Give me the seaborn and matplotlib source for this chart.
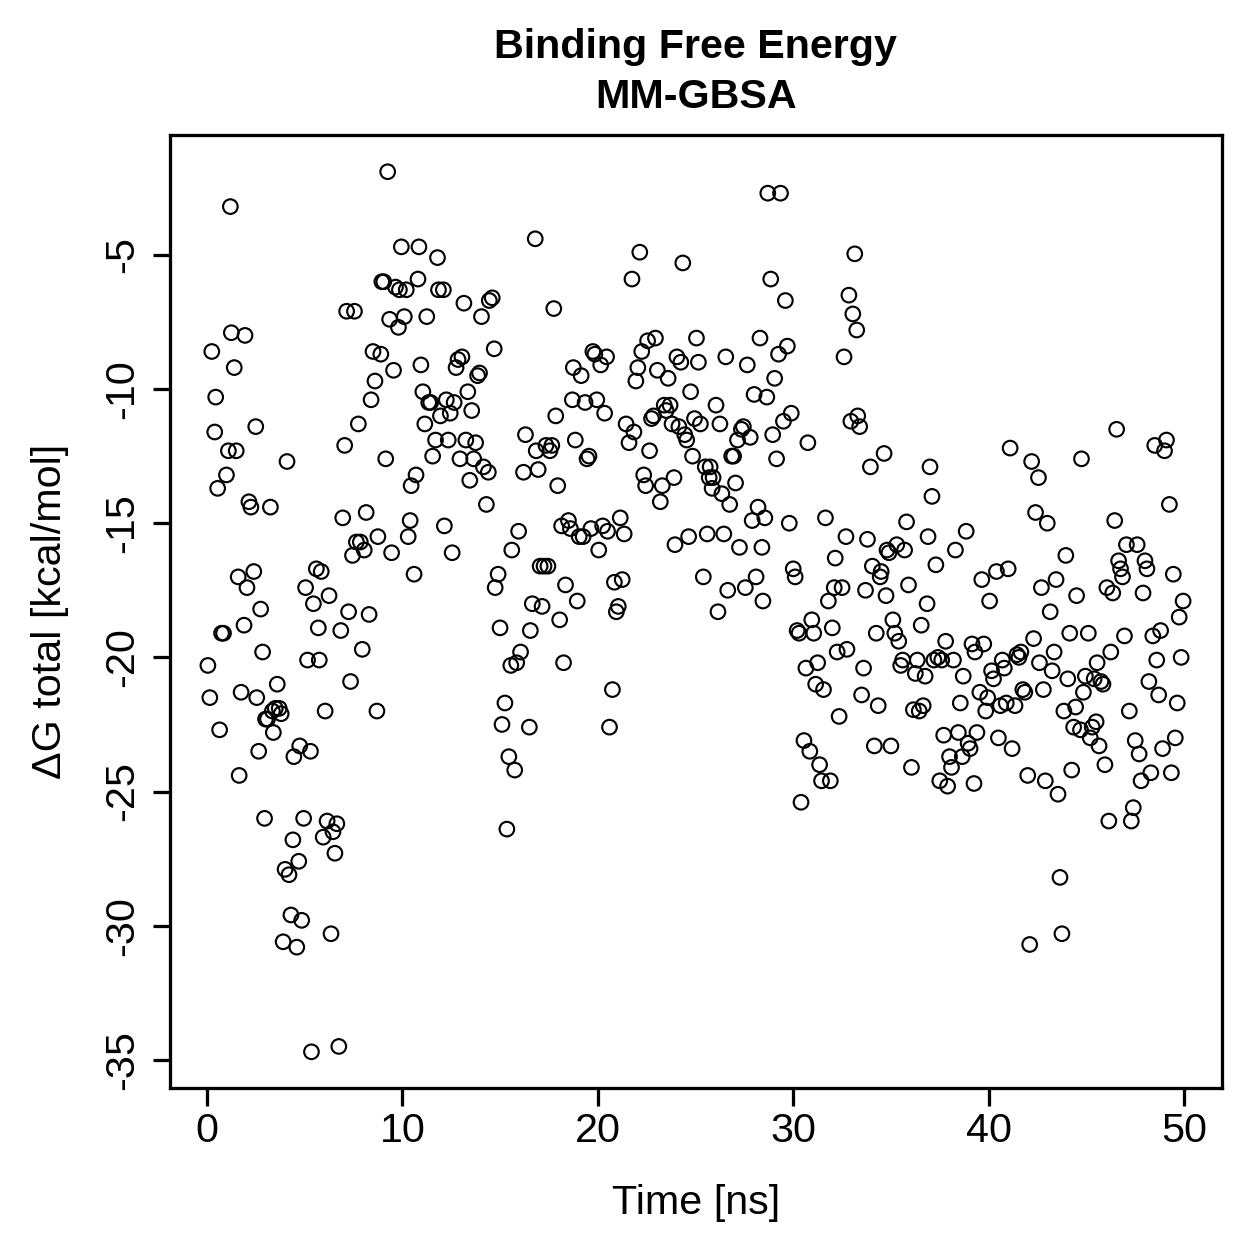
import numpy as np
import pandas as pd
import matplotlib
matplotlib.use("Agg")
import matplotlib.pyplot as plt
import seaborn as sns

# time [ns] and total binding free energy [kcal/mol]
time_ns = [
    0.05, 0.15, 0.25, 0.4, 0.45, 0.55, 0.65, 0.75, 0.85, 1.0, 1.1, 1.2, 1.25, 1.4, 1.5, 1.6, 1.65, 1.75, 1.9, 1.95,
    2.05, 2.15, 2.25, 2.4, 2.5, 2.55, 2.65, 2.75, 2.85, 2.95, 3.0, 3.1, 3.25, 3.35, 3.4, 3.5, 3.6, 3.7, 3.8, 3.9,
    4.0, 4.1, 4.2, 4.3, 4.4, 4.45, 4.6, 4.7, 4.75, 4.85, 4.95, 5.05, 5.15, 5.3, 5.35, 5.45, 5.6, 5.7, 5.75, 5.85,
    5.95, 6.05, 6.15, 6.25, 6.35, 6.45, 6.55, 6.65, 6.75, 6.85, 6.95, 7.05, 7.15, 7.25, 7.35, 7.45, 7.55, 7.65, 7.75, 7.85,
    7.95, 8.05, 8.15, 8.3, 8.4, 8.5, 8.6, 8.7, 8.75, 8.9, 8.95, 9.05, 9.15, 9.25, 9.35, 9.45, 9.55, 9.65, 9.8, 9.85,
    9.95, 10.1, 10.2, 10.3, 10.4, 10.45, 10.6, 10.7, 10.8, 10.85, 10.95, 11.05, 11.15, 11.25, 11.35, 11.45, 11.55, 11.7, 11.8, 11.85,
    11.95, 12.1, 12.15, 12.25, 12.35, 12.45, 12.55, 12.65, 12.75, 12.85, 12.95, 13.05, 13.15, 13.25, 13.35, 13.45, 13.55, 13.65, 13.75, 13.85,
    13.95, 14.05, 14.15, 14.3, 14.4, 14.45, 14.6, 14.7, 14.75, 14.9, 15.0, 15.1, 15.25, 15.35, 15.45, 15.55, 15.6, 15.75, 15.85, 15.95,
    16.05, 16.2, 16.3, 16.5, 16.55, 16.65, 16.8, 16.85, 16.95, 17.05, 17.15, 17.25, 17.35, 17.45, 17.55, 17.65, 17.75, 17.85, 17.95, 18.05,
    18.15, 18.25, 18.35, 18.5, 18.6, 18.7, 18.75, 18.85, 18.95, 19.05, 19.15, 19.25, 19.35, 19.45, 19.55, 19.65, 19.75, 19.85, 19.95, 20.05,
    20.15, 20.25, 20.35, 20.45, 20.5, 20.6, 20.75, 20.85, 20.95, 21.05, 21.15, 21.25, 21.35, 21.45, 21.6, 21.75, 21.85, 21.95, 22.05, 22.15,
    22.25, 22.35, 22.45, 22.55, 22.65, 22.75, 22.85, 22.95, 23.05, 23.2, 23.3, 23.4, 23.5, 23.6, 23.7, 23.8, 23.9, 23.95, 24.05, 24.15,
    24.25, 24.35, 24.45, 24.55, 24.65, 24.75, 24.85, 24.95, 25.05, 25.15, 25.25, 25.4, 25.5, 25.6, 25.7, 25.75, 25.85, 25.9, 26.05, 26.15,
    26.25, 26.35, 26.45, 26.55, 26.65, 26.75, 26.85, 26.95, 27.05, 27.15, 27.25, 27.35, 27.45, 27.55, 27.65, 27.8, 27.9, 28.0, 28.1, 28.2,
    28.3, 28.4, 28.45, 28.55, 28.65, 28.7, 28.85, 28.95, 29.05, 29.15, 29.25, 29.35, 29.5, 29.6, 29.7, 29.8, 29.9, 30.0, 30.1, 30.2,
    30.3, 30.4, 30.55, 30.65, 30.75, 30.85, 30.95, 31.05, 31.15, 31.25, 31.35, 31.45, 31.55, 31.65, 31.8, 31.9, 32.0, 32.1, 32.15, 32.25,
    32.35, 32.5, 32.6, 32.7, 32.75, 32.85, 32.95, 33.05, 33.15, 33.25, 33.3, 33.4, 33.5, 33.6, 33.7, 33.8, 33.95, 34.05, 34.15, 34.25,
    34.35, 34.45, 34.5, 34.65, 34.75, 34.8, 34.9, 35.0, 35.1, 35.2, 35.3, 35.4, 35.5, 35.6, 35.7, 35.8, 35.9, 36.05, 36.15, 36.25,
    36.35, 36.45, 36.55, 36.65, 36.75, 36.85, 36.9, 37.0, 37.1, 37.2, 37.3, 37.4, 37.5, 37.6, 37.7, 37.8, 37.9, 38.0, 38.1, 38.2,
    38.3, 38.45, 38.55, 38.65, 38.7, 38.85, 38.95, 39.05, 39.15, 39.25, 39.3, 39.4, 39.55, 39.65, 39.75, 39.85, 39.95, 40.05, 40.15, 40.25,
    40.4, 40.5, 40.6, 40.7, 40.8, 40.9, 41.0, 41.1, 41.2, 41.35, 41.45, 41.55, 41.65, 41.75, 41.85, 42.0, 42.1, 42.2, 42.3, 42.4,
    42.55, 42.6, 42.7, 42.8, 42.9, 43.0, 43.15, 43.25, 43.35, 43.45, 43.55, 43.65, 43.75, 43.85, 43.95, 44.05, 44.15, 44.25, 44.35, 44.45,
    44.5, 44.7, 44.75, 44.85, 44.95, 45.1, 45.2, 45.3, 45.4, 45.5, 45.55, 45.65, 45.75, 45.85, 45.95, 46.05, 46.15, 46.25, 46.35, 46.45,
    46.55, 46.65, 46.75, 46.85, 46.95, 47.05, 47.2, 47.3, 47.4, 47.5, 47.6, 47.7, 47.8, 47.9, 48.0, 48.1, 48.2, 48.3, 48.4, 48.5,
    48.6, 48.7, 48.8, 48.9, 49.0, 49.1, 49.25, 49.35, 49.45, 49.55, 49.65, 49.75, 49.85, 49.95,
]

dg_total = [
    -20.3, -21.5, -8.6, -11.6, -10.3, -13.7, -22.7, -19.1, -19.1, -13.2, -12.3, -3.2, -7.9, -9.2, -12.3, -17.0, -24.4, -21.3, -18.8, -8.0,
    -17.4, -14.2, -14.4, -16.8, -11.4, -21.5, -23.5, -18.2, -19.8, -26.0, -22.3, -22.3, -14.4, -22.0, -22.8, -21.9, -21.0, -21.9, -22.1, -30.6,
    -27.9, -12.7, -28.1, -29.6, -26.8, -23.7, -30.8, -27.6, -23.3, -29.8, -26.0, -17.4, -20.1, -23.5, -34.7, -18.0, -16.7, -18.9, -20.1, -16.8,
    -26.7, -22.0, -26.1, -17.7, -30.3, -26.5, -27.3, -26.2, -34.5, -19.0, -14.8, -12.1, -7.1, -18.3, -20.9, -16.2, -7.1, -15.7, -11.3, -15.7,
    -19.7, -16.0, -14.6, -18.4, -10.4, -8.6, -9.7, -22.0, -15.5, -8.7, -6.0, -6.0, -12.6, -1.9, -7.4, -16.1, -9.3, -6.2, -7.7, -6.3,
    -4.7, -7.3, -6.3, -15.5, -14.9, -13.6, -16.9, -13.2, -5.9, -4.7, -9.1, -10.1, -11.3, -7.3, -10.5, -10.5, -12.5, -11.9, -5.1, -6.3,
    -11.0, -6.3, -15.1, -10.4, -11.9, -10.9, -16.1, -10.5, -9.2, -8.9, -12.6, -8.8, -6.8, -11.9, -10.1, -13.4, -10.8, -12.6, -12.0, -9.5,
    -9.4, -7.3, -12.9, -14.3, -13.1, -6.7, -6.6, -8.5, -17.4, -16.9, -18.9, -22.5, -21.7, -26.4, -23.7, -20.3, -16.0, -24.2, -20.2, -15.3,
    -19.8, -13.1, -11.7, -22.6, -19.0, -18.0, -4.4, -12.3, -13.0, -16.6, -18.1, -16.6, -12.1, -16.6, -12.3, -12.1, -7.0, -11.0, -13.6, -18.6,
    -15.1, -20.2, -17.3, -14.9, -15.2, -10.4, -9.2, -11.9, -17.9, -15.5, -9.5, -15.5, -10.5, -12.6, -12.5, -15.2, -8.6, -8.7, -10.4, -16.0,
    -9.1, -15.1, -10.9, -8.8, -15.3, -22.6, -21.2, -17.2, -18.3, -18.1, -14.8, -17.1, -15.4, -11.3, -12.0, -5.9, -11.6, -9.7, -9.2, -4.9,
    -8.6, -13.2, -13.6, -8.2, -12.3, -11.1, -11.0, -8.1, -9.3, -14.2, -13.6, -10.6, -10.8, -9.6, -10.6, -11.3, -13.3, -15.8, -8.8, -11.4,
    -9.0, -5.3, -11.7, -11.9, -15.5, -10.1, -12.5, -11.1, -8.1, -9.0, -11.3, -17.0, -12.9, -15.4, -13.3, -12.9, -13.7, -13.3, -10.6, -18.3,
    -11.3, -13.9, -15.4, -8.8, -17.5, -14.3, -12.5, -12.5, -13.5, -11.9, -15.9, -11.5, -11.4, -17.4, -9.1, -11.8, -14.9, -10.2, -17.0, -14.4,
    -8.1, -15.9, -17.9, -14.8, -10.3, -2.7, -5.9, -11.7, -9.6, -12.6, -8.7, -2.7, -11.2, -6.7, -8.4, -15.0, -10.9, -16.7, -17.0, -19.0,
    -19.1, -25.4, -23.1, -20.4, -12.0, -23.5, -18.6, -19.1, -21.0, -20.2, -24.0, -24.6, -21.2, -14.8, -17.9, -24.6, -18.9, -17.4, -16.3, -19.8,
    -22.2, -17.4, -8.8, -15.5, -19.7, -6.5, -11.2, -7.2, -4.96, -7.8, -11.0, -11.4, -21.4, -20.4, -17.5, -15.6, -12.9, -16.6, -23.3, -19.1,
    -21.8, -17.0, -16.8, -12.4, -17.7, -16.0, -16.1, -23.3, -18.6, -19.1, -15.8, -19.4, -20.3, -20.1, -16.0, -14.95, -17.3, -24.1, -21.95, -20.6,
    -20.1, -22.0, -18.8, -21.8, -20.7, -18.0, -15.5, -12.9, -14.0, -20.1, -16.55, -20.0, -24.6, -20.1, -22.9, -19.4, -24.8, -23.7, -24.1, -20.1,
    -16.0, -22.8, -21.7, -23.7, -20.7, -15.3, -23.2, -23.4, -19.5, -24.7, -19.8, -22.8, -21.3, -17.1, -19.5, -22.0, -21.5, -17.9, -20.5, -20.8,
    -16.8, -23.0, -21.8, -20.1, -20.4, -21.7, -16.7, -12.2, -23.4, -21.8, -19.9, -20.0, -19.8, -21.2, -21.3, -24.4, -30.7, -12.7, -19.3, -14.6,
    -13.3, -20.2, -17.4, -21.2, -24.6, -15.0, -18.3, -20.5, -19.8, -17.1, -25.1, -28.2, -30.3, -22.0, -16.2, -20.8, -19.1, -24.2, -22.6, -21.85,
    -17.7, -22.7, -12.6, -21.3, -20.7, -19.1, -23.0, -22.6, -20.8, -22.4, -20.2, -23.3, -20.9, -21.0, -24.0, -17.4, -26.1, -19.8, -17.6, -14.9,
    -11.5, -16.4, -16.7, -17.0, -19.2, -15.8, -22.0, -26.1, -25.6, -23.1, -15.8, -23.6, -24.6, -17.6, -16.4, -16.7, -20.9, -24.3, -19.2, -12.1,
    -20.1, -21.4, -19.0, -23.4, -12.3, -11.9, -14.3, -24.3, -16.9, -23.0, -21.7, -18.5, -20.0, -17.9,
]

title_lines = ["Binding Free Energy", "MM-GBSA"]
x_label = "Time [ns]"
y_label = "\u0394G total [kcal/mol]"
x_ticks = [0, 10, 20, 30, 40, 50]
y_ticks = [-35, -30, -25, -20, -15, -10, -5]


def main():
    df = pd.DataFrame({"time": time_ns, "dg": dg_total})

    sns.set_style("ticks", rc={"text.color": "black", "axes.labelcolor": "black",
                               "xtick.color": "black", "ytick.color": "black",
                               "axes.edgecolor": "black"})
    plt.rcParams["font.family"] = ["Liberation Sans", "DejaVu Sans"]

    fig = plt.figure(figsize=(1259 / 180, 1259 / 180), dpi=180)
    ax = fig.add_axes([0.135, 0.1358, 0.8356, 0.757])

    sns.scatterplot(data=df, x="time", y="dg", ax=ax, marker="o",
                    facecolors="none", edgecolor="black", s=34, linewidth=0.85)

    ax.set_xlim(-1.89, 51.94)
    ax.set_ylim(-36.05, -0.53)
    ax.set_xticks(x_ticks)
    ax.set_yticks(y_ticks)
    ax.set_yticklabels([str(v) for v in y_ticks], rotation=90, va="center")
    ax.tick_params(direction="out", length=7, width=1.3, labelsize=16.5,
                   colors="black")
    ax.tick_params(axis="x", pad=2.5)
    ax.tick_params(axis="y", pad=4.5)

    for sp in ax.spines.values():
        sp.set_visible(True)
        sp.set_linewidth(1.3)
        sp.set_color("black")

    ax.set_xlabel(x_label, fontsize=16.5, va="center")
    ax.set_ylabel(y_label, fontsize=16.5, va="center")
    ax.xaxis.set_label_coords(0.5, -0.1207)
    ax.yaxis.set_label_coords(-0.114, 0.5)
    ax.set_title("\n".join(title_lines), fontsize=16.5, fontweight="bold",
                 linespacing=1.4, pad=10.8)

    fig.savefig("out.png", dpi=180, facecolor="white")


if __name__ == "__main__":
    main()
